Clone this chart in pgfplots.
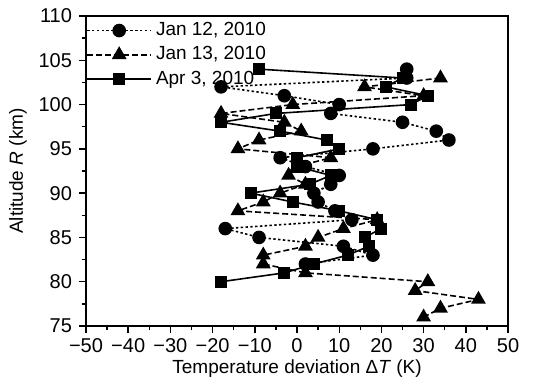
\documentclass[border=0pt]{standalone}
\usepackage{fontspec}
\setmainfont{Liberation Sans}
\usepackage{pgfplots}
\pgfplotsset{compat=1.18}
\begin{document}
\begin{tikzpicture}[font=\fontsize{9.5}{11}\selectfont]
\begin{axis}[
  scale only axis, width=211pt, height=155pt,
  xmin=-50, xmax=50, ymin=75, ymax=110,
  xtick={-50,-40,...,50},
  xticklabels={−50,−40,−30,−20,−10,0,10,20,30,40,50},
  ytick={75,80,...,110},
  minor x tick num=1, minor y tick num=1,
  tick pos=left, tick align=outside,
  major tick length=3.5pt, minor tick length=2pt,
  axis line style={line width=0.8pt},
  every tick/.style={black, line width=0.7pt},
  tick label style={font=\fontsize{10}{12}\selectfont},
  xticklabel style={yshift=1pt},
  /pgf/number format/assume math mode=true,
  xlabel={Temperature deviation Δ\textit{T} (K)},
  ylabel={Altitude \textit{R} (km)},
  xlabel style={yshift=3pt},
  ylabel style={yshift=-1pt},
  legend cell align=left,
  legend style={at={(0,1)}, anchor=north west, draw=none, fill=none,
    inner xsep=0pt, inner ysep=1pt, row sep=0pt, font=\fontsize{9.5}{11}\selectfont},
  legend image code/.code={\draw[#1,mark repeat=2,mark phase=2] plot coordinates {(0pt,0pt) (16pt,0pt) (32pt,0pt)};},
]
\coordinate (bl) at (rel axis cs:0,0);
\coordinate (tr) at (rel axis cs:1,1);
\addplot[black, line width=0.8pt, dash pattern=on 1.2pt off 1.2pt, mark=*, mark size=3pt, mark options={solid}] table {
x y
26 104
26 103
-18 102
-3 101
10 100
8 99
25 98
33 97
36 96
18 95
-4 94
2 93
10 92
8 91
4 90
5 89
9 88
13 87
-17 86
-9 85
11 84
18 83
2 82
};
\addlegendentry{Jan 12, 2010}
\addplot[black, line width=0.8pt, dash pattern=on 3pt off 1.5pt, mark=triangle*, mark size=3.5pt, mark options={solid}] table {
x y
34 103
16 102
30 101
-1 100
-18 99
-3 98
1 97
-9 96
-14 95
8 94
0 93
-2 92
2 91
-4 90
-8 89
-14 88
19 87
11 86
5 85
2 84
-8 83
-8 82
2 81
31 80
28 79
43 78
34 77
30 76
};
\addlegendentry{Jan 13, 2010}
\addplot[black, line width=0.8pt, mark=square*, mark size=2.6pt, mark options={solid}] table {
x y
-9 104
25 103
21 102
31 101
27 100
-5 99
-18 98
-4 97
7 96
10 95
0 94
0 93
8 92
3 91
-11 90
-1 89
10 88
19 87
20 86
16 85
17 84
12 83
4 82
-3 81
-18 80
};
\addlegendentry{Apr 3, 2010}
\end{axis}
\pgfresetboundingbox
\path ([shift={(-43pt,-27.5pt)}]bl) rectangle ([shift={(15pt,8pt)}]tr);
\end{tikzpicture}
\end{document}
